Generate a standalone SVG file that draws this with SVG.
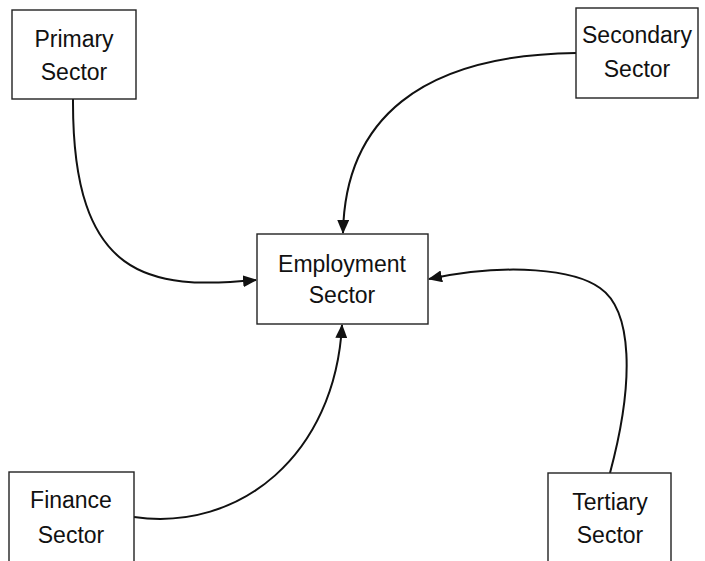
<svg xmlns="http://www.w3.org/2000/svg" width="705" height="561" viewBox="0 0 705 561">
<style>
.box{fill:#fff;stroke:#222;stroke-width:1.4}
.lbl{font-family:"Liberation Sans",Arial,sans-serif;font-size:23px;fill:#111;text-anchor:middle}
.con{fill:none;stroke:#111;stroke-width:2}
</style>
<defs>
<marker id="ah" markerWidth="14" markerHeight="12" refX="13" refY="6" orient="auto" markerUnits="userSpaceOnUse">
<path d="M0,0 L14,6 L0,12 Z" fill="#111"/>
</marker>
</defs>
<rect width="705" height="561" fill="#fff"/>
<g id="connectors">
<path class="con" d="M73,99 C72,280 150,290 256,280" marker-end="url(#ah)"/>
<path class="con" d="M576,53 C420,55 345,120 343,233" marker-end="url(#ah)"/>
<path class="con" d="M134,517 C240,532 335,455 342,325" marker-end="url(#ah)"/>
<path class="con" d="M610,473 C635,380 632,310 600,288 C575,270 510,262 429,279" marker-end="url(#ah)"/>
</g>
<g id="primary">
<rect class="box" x="12" y="10" width="124" height="89"/>
<text class="lbl" x="74" y="47">Primary</text>
<text class="lbl" x="74" y="80">Sector</text>
</g>
<g id="secondary">
<rect class="box" x="576" y="8" width="122" height="90"/>
<text class="lbl" x="637" y="43">Secondary</text>
<text class="lbl" x="637" y="77">Sector</text>
</g>
<g id="employment">
<rect class="box" x="257" y="234" width="171" height="90"/>
<text class="lbl" x="342" y="272">Employment</text>
<text class="lbl" x="342" y="303">Sector</text>
</g>
<g id="finance">
<rect class="box" x="9" y="472" width="125" height="100"/>
<text class="lbl" x="71" y="508">Finance</text>
<text class="lbl" x="71" y="543">Sector</text>
</g>
<g id="tertiary">
<rect class="box" x="548" y="473" width="123" height="100"/>
<text class="lbl" x="610" y="510">Tertiary</text>
<text class="lbl" x="610" y="543">Sector</text>
</g>
</svg>
